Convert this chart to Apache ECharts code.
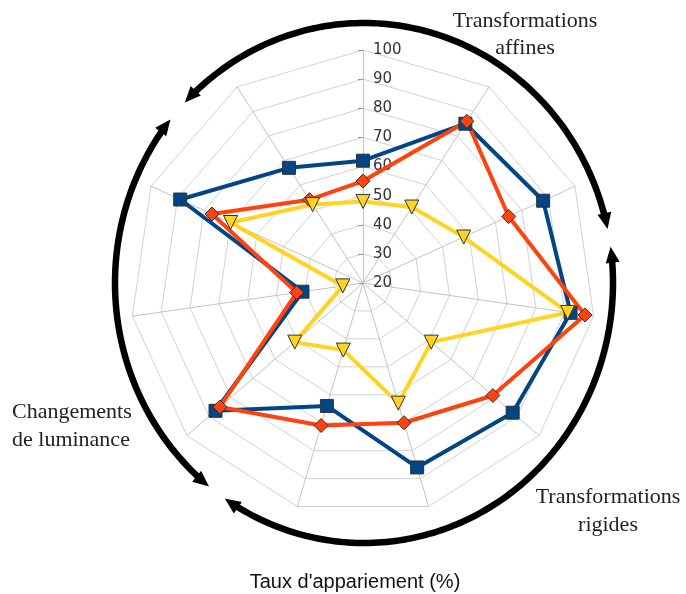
<!DOCTYPE html>
<html><head><meta charset="utf-8">
<script src="https://cdn.jsdelivr.net/npm/echarts@6/dist/echarts.min.js"></script>
<style>html,body{margin:0;padding:0;background:#fff}#c{width:686px;height:594px}</style>
</head><body><div id="c"></div>
<script>
// Axes listed clockwise starting from the top (vertical) axis
const axisIds = ['1', '2', '3', '4', '5', '6', '7', '8', '9', '10', '11'];
const tickLabels = ['20', '30', '40', '50', '60', '70', '80', '90', '100'];
const seriesNames = ['Série 1', 'Série 2', 'Série 3'];
const blueValues   = [62, 85, 88, 92, 88, 86, 64, 87, 41, 89, 67];
const redValues    = [55, 86, 75, 97, 79, 70, 71, 85, 43, 77, 54];
const yellowValues = [48, 51, 58, 91, 51, 63, 44, 51, 27, 70, 52];
const groupLabels = ['Transformations\naffines', 'Transformations\nrigides', 'Changements\nde luminance'];
const axisTitle = "Taux d'appariement (%)";

const axisMin = Number(tickLabels[0]);
const axisMax = Number(tickLabels[tickLabels.length - 1]);
const n = axisIds.length;
// ECharts places indicators counter-clockwise; reorder so drawing is clockwise
const order = axisIds.map((_, j) => (n - j) % n);
const reorder = arr => order.map(k => arr[k]);

const indicator = order.map((k, j) => {
  const ind = { name: axisIds[k], min: axisMin, max: axisMax };
  if (j !== 0) { ind.axisLabel = { show: false }; ind.axisTick = { show: false }; }
  return ind;
});

// decorative arcs (ellipse around the chart)
const CX = 364, CY = 283, RX = 249, RY = 260;
function pt(deg) { const a = deg * Math.PI / 180; return [CX + RX * Math.cos(a), CY - RY * Math.sin(a)]; }
const graphics = [];
function arrowArc(a0, a1) {
  const dir = a1 > a0 ? 1 : -1;
  const L = 16, W = 14;
  const trim = 11 / 255 * 180 / Math.PI;
  const s = a0 + dir * trim, e = a1 - dir * trim;
  const pts = [];
  const steps = Math.ceil(Math.abs(e - s));
  for (let i = 0; i <= steps; i++) pts.push(pt(s + (e - s) * i / steps));
  graphics.push({ type: 'polyline', shape: { points: pts }, style: { stroke: '#000', lineWidth: 6.5, fill: null, lineCap: 'butt' }, z: 10 });
  [[a1, dir], [a0, -dir]].forEach(([a, d]) => {
    const r = a * Math.PI / 180;
    let tx = -RX * Math.sin(r) * d, ty = -RY * Math.cos(r) * d;
    const len = Math.hypot(tx, ty); tx /= len; ty /= len;
    const P = pt(a);
    const B = [P[0] - tx * L, P[1] - ty * L];
    const nx = -ty, ny = tx;
    graphics.push({ type: 'polygon', shape: { points: [P, [B[0] + nx * W / 2, B[1] + ny * W / 2], [B[0] - nx * W / 2, B[1] - ny * W / 2]] }, style: { fill: '#000' }, z: 10 });
  });
}
arrowArc(12, 136);
arrowArc(8, -124);
arrowArc(141, 231.5);

const serif = '"Liberation Serif", "DejaVu Serif", serif';
graphics.push({ type: 'text', z: 11, style: { text: groupLabels[0], x: 525, y: 35, align: 'center', verticalAlign: 'middle', fontSize: 22, lineHeight: 27, fontFamily: serif, fill: '#222' } });
graphics.push({ type: 'text', z: 11, style: { text: groupLabels[1], x: 608, y: 511, align: 'center', verticalAlign: 'middle', fontSize: 22, lineHeight: 28, fontFamily: serif, fill: '#222' } });
graphics.push({ type: 'text', z: 11, style: { text: groupLabels[2], x: 12, y: 426, align: 'left', verticalAlign: 'middle', fontSize: 22, lineHeight: 28, fontFamily: serif, fill: '#222' } });
graphics.push({ type: 'text', z: 11, style: { text: axisTitle, x: 355, y: 582, align: 'center', verticalAlign: 'middle', fontSize: 20, fontFamily: '"Liberation Sans", sans-serif', fill: '#111' } });

const chart = echarts.init(document.getElementById('c'), null, { renderer: 'canvas' });
const mk = (name, vals, color, symbol, size, rot) => ({
  type: 'radar',
  name: name,
  symbol: symbol,
  symbolSize: size,
  symbolRotate: rot,
  lineStyle: { color: color, width: 4 },
  itemStyle: { color: color, borderColor: '#333', borderWidth: 1 },
  data: [{ value: reorder(vals), name: name }],
  z: 2
});
chart.setOption({
  animation: false,
  backgroundColor: '#fff',
  radar: {
    center: [363, 283],
    radius: 233,
    startAngle: 90,
    shape: 'polygon',
    splitNumber: tickLabels.length - 1,
    indicator: indicator,
    axisName: { show: false },
    axisLine: { lineStyle: { color: '#c4c4c4', width: 1 } },
    splitLine: { lineStyle: { color: '#d2d2d2', width: 1 } },
    splitArea: { show: false },
    axisTick: { show: true, length: 5, lineStyle: { color: '#999' } },
    axisLabel: { show: true, margin: -10, align: 'left', color: '#333', fontSize: 15, fontFamily: '"DejaVu Sans", sans-serif', formatter: v => String(Math.round(v)) }
  },
  series: [
    mk(seriesNames[0], blueValues, '#004586', 'rect', 13, 0),
    mk(seriesNames[1], redValues, '#ff420e', 'diamond', 14, 0),
    mk(seriesNames[2], yellowValues, '#ffd320', 'triangle', 14, 180)
  ],
  graphic: graphics
});
</script></body></html>
